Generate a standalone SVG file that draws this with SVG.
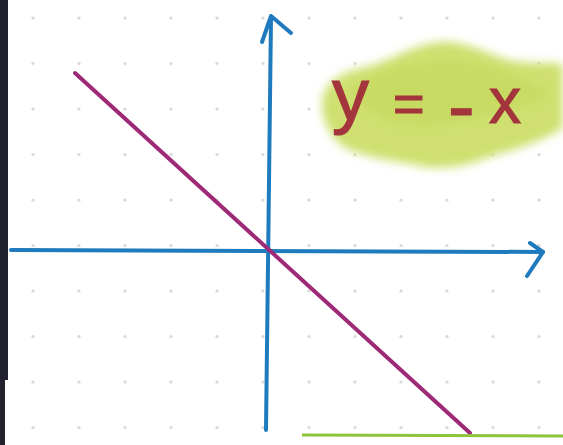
<svg xmlns="http://www.w3.org/2000/svg" width="563" height="445" viewBox="0 0 563 445">
  <defs>
    <pattern id="dots" x="10" y="-5" width="46" height="45.5" patternUnits="userSpaceOnUse">
      <circle cx="23" cy="23" r="1.6" fill="#d6d6d6"/>
    </pattern>
    <filter id="soft" x="-20%" y="-30%" width="140%" height="160%">
      <feGaussianBlur stdDeviation="5"/>
    </filter>
    <style>
      .axis { stroke: #1f7bbd; stroke-width: 4; fill: none; stroke-linecap: round; stroke-linejoin: round; }
      .graph { stroke: #9e2a77; stroke-width: 4; fill: none; stroke-linecap: round; }
      .label { font-family: "Liberation Sans", Arial, sans-serif; font-size: 54px; fill: #a3353c; stroke: #a3353c; stroke-width: 1.2; }
    </style>
  </defs>
  <rect width="563" height="445" fill="#ffffff"/>
  <rect width="563" height="445" fill="url(#dots)"/>
  <g id="frame">
    <rect x="0" y="0" width="8" height="380" fill="#22222e"/>
    <rect x="0" y="380" width="5" height="65" fill="#22222e"/>
  </g>
  <g id="highlight">
    <path d="M322,104 C322,85 340,72 362,68 C390,62 410,45 440,42 C470,40 495,60 520,62 C540,64 555,62 563,64 L563,128 C545,140 515,150 495,155 C470,165 445,172 415,165 C390,160 370,158 350,150 C332,142 322,122 322,104 Z" fill="#cfe070" filter="url(#soft)"/>
    <path d="M350,90 C380,70 420,60 460,62 C500,66 530,80 550,95 C520,110 470,120 430,125 C395,128 365,115 350,90 Z" fill="#c1d654" opacity="0.5" filter="url(#soft)"/>
  </g>
  <g id="connectors">
    <g id="y-axis">
      <path class="axis" d="M271,17 L266,430"/>
      <path class="axis" d="M262,42 L271,16 L291,33"/>
    </g>
    <g id="x-axis">
      <path class="axis" d="M11,250 L543,252"/>
      <path class="axis" d="M530,243 L543,252 L527,276"/>
    </g>
    <g id="line">
      <path class="graph" d="M75,73 L470,433"/>
    </g>
    <g id="baseline">
      <path d="M302,435 L563,436" stroke="#8cc43e" stroke-width="3" fill="none"/>
    </g>
  </g>
  <g id="equation">
    <text class="label" y="122"><tspan x="332" y="120" font-size="74">y</tspan><tspan x="393" y="122">=</tspan><tspan x="448" y="133" font-size="80">-</tspan><tspan x="489" y="123" font-size="64">x</tspan></text>
  </g>
</svg>
